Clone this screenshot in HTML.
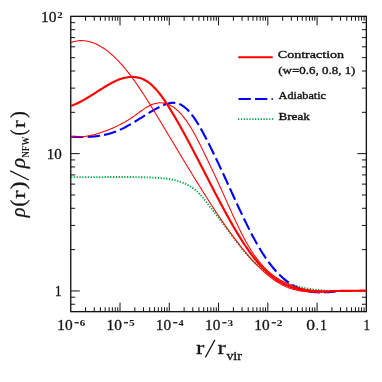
<!DOCTYPE html>
<html><head><meta charset="utf-8"><style>
html,body{margin:0;padding:0;background:#fff;}
body{width:382px;height:382px;overflow:hidden;}
svg{display:block;}
text{font-family:"Liberation Serif",serif;fill:#141414;}
.ticks line{stroke:#141414;stroke-width:1.0;}
</style></head><body>
<svg width="382" height="382" viewBox="0 0 382 382">
<rect width="382" height="382" fill="#fff"/>
<defs><clipPath id="cp"><rect x="70.75" y="16.35" width="296.20000000000005" height="295.29999999999995"/></clipPath></defs>
<rect x="70.75" y="16.35" width="295.6" height="295.29999999999995" fill="none" stroke="#141414" stroke-width="1.35"/>
<g class="ticks"><line x1="85.58" y1="311.65" x2="85.58" y2="307.25"/><line x1="85.58" y1="16.35" x2="85.58" y2="20.75"/><line x1="94.26" y1="311.65" x2="94.26" y2="307.25"/><line x1="94.26" y1="16.35" x2="94.26" y2="20.75"/><line x1="100.41" y1="311.65" x2="100.41" y2="307.25"/><line x1="100.41" y1="16.35" x2="100.41" y2="20.75"/><line x1="105.19" y1="311.65" x2="105.19" y2="307.25"/><line x1="105.19" y1="16.35" x2="105.19" y2="20.75"/><line x1="109.09" y1="311.65" x2="109.09" y2="307.25"/><line x1="109.09" y1="16.35" x2="109.09" y2="20.75"/><line x1="112.39" y1="311.65" x2="112.39" y2="307.25"/><line x1="112.39" y1="16.35" x2="112.39" y2="20.75"/><line x1="115.24" y1="311.65" x2="115.24" y2="307.25"/><line x1="115.24" y1="16.35" x2="115.24" y2="20.75"/><line x1="117.76" y1="311.65" x2="117.76" y2="307.25"/><line x1="117.76" y1="16.35" x2="117.76" y2="20.75"/><line x1="120.02" y1="311.65" x2="120.02" y2="302.65"/><line x1="120.02" y1="16.35" x2="120.02" y2="25.35"/><line x1="134.85" y1="311.65" x2="134.85" y2="307.25"/><line x1="134.85" y1="16.35" x2="134.85" y2="20.75"/><line x1="143.52" y1="311.65" x2="143.52" y2="307.25"/><line x1="143.52" y1="16.35" x2="143.52" y2="20.75"/><line x1="149.68" y1="311.65" x2="149.68" y2="307.25"/><line x1="149.68" y1="16.35" x2="149.68" y2="20.75"/><line x1="154.45" y1="311.65" x2="154.45" y2="307.25"/><line x1="154.45" y1="16.35" x2="154.45" y2="20.75"/><line x1="158.35" y1="311.65" x2="158.35" y2="307.25"/><line x1="158.35" y1="16.35" x2="158.35" y2="20.75"/><line x1="161.65" y1="311.65" x2="161.65" y2="307.25"/><line x1="161.65" y1="16.35" x2="161.65" y2="20.75"/><line x1="164.51" y1="311.65" x2="164.51" y2="307.25"/><line x1="164.51" y1="16.35" x2="164.51" y2="20.75"/><line x1="167.03" y1="311.65" x2="167.03" y2="307.25"/><line x1="167.03" y1="16.35" x2="167.03" y2="20.75"/><line x1="169.28" y1="311.65" x2="169.28" y2="302.65"/><line x1="169.28" y1="16.35" x2="169.28" y2="25.35"/><line x1="184.11" y1="311.65" x2="184.11" y2="307.25"/><line x1="184.11" y1="16.35" x2="184.11" y2="20.75"/><line x1="192.79" y1="311.65" x2="192.79" y2="307.25"/><line x1="192.79" y1="16.35" x2="192.79" y2="20.75"/><line x1="198.94" y1="311.65" x2="198.94" y2="307.25"/><line x1="198.94" y1="16.35" x2="198.94" y2="20.75"/><line x1="203.72" y1="311.65" x2="203.72" y2="307.25"/><line x1="203.72" y1="16.35" x2="203.72" y2="20.75"/><line x1="207.62" y1="311.65" x2="207.62" y2="307.25"/><line x1="207.62" y1="16.35" x2="207.62" y2="20.75"/><line x1="210.92" y1="311.65" x2="210.92" y2="307.25"/><line x1="210.92" y1="16.35" x2="210.92" y2="20.75"/><line x1="213.78" y1="311.65" x2="213.78" y2="307.25"/><line x1="213.78" y1="16.35" x2="213.78" y2="20.75"/><line x1="216.30" y1="311.65" x2="216.30" y2="307.25"/><line x1="216.30" y1="16.35" x2="216.30" y2="20.75"/><line x1="218.55" y1="311.65" x2="218.55" y2="302.65"/><line x1="218.55" y1="16.35" x2="218.55" y2="25.35"/><line x1="233.38" y1="311.65" x2="233.38" y2="307.25"/><line x1="233.38" y1="16.35" x2="233.38" y2="20.75"/><line x1="242.06" y1="311.65" x2="242.06" y2="307.25"/><line x1="242.06" y1="16.35" x2="242.06" y2="20.75"/><line x1="248.21" y1="311.65" x2="248.21" y2="307.25"/><line x1="248.21" y1="16.35" x2="248.21" y2="20.75"/><line x1="252.99" y1="311.65" x2="252.99" y2="307.25"/><line x1="252.99" y1="16.35" x2="252.99" y2="20.75"/><line x1="256.89" y1="311.65" x2="256.89" y2="307.25"/><line x1="256.89" y1="16.35" x2="256.89" y2="20.75"/><line x1="260.19" y1="311.65" x2="260.19" y2="307.25"/><line x1="260.19" y1="16.35" x2="260.19" y2="20.75"/><line x1="263.04" y1="311.65" x2="263.04" y2="307.25"/><line x1="263.04" y1="16.35" x2="263.04" y2="20.75"/><line x1="265.56" y1="311.65" x2="265.56" y2="307.25"/><line x1="265.56" y1="16.35" x2="265.56" y2="20.75"/><line x1="267.82" y1="311.65" x2="267.82" y2="302.65"/><line x1="267.82" y1="16.35" x2="267.82" y2="25.35"/><line x1="282.65" y1="311.65" x2="282.65" y2="307.25"/><line x1="282.65" y1="16.35" x2="282.65" y2="20.75"/><line x1="291.32" y1="311.65" x2="291.32" y2="307.25"/><line x1="291.32" y1="16.35" x2="291.32" y2="20.75"/><line x1="297.48" y1="311.65" x2="297.48" y2="307.25"/><line x1="297.48" y1="16.35" x2="297.48" y2="20.75"/><line x1="302.25" y1="311.65" x2="302.25" y2="307.25"/><line x1="302.25" y1="16.35" x2="302.25" y2="20.75"/><line x1="306.15" y1="311.65" x2="306.15" y2="307.25"/><line x1="306.15" y1="16.35" x2="306.15" y2="20.75"/><line x1="309.45" y1="311.65" x2="309.45" y2="307.25"/><line x1="309.45" y1="16.35" x2="309.45" y2="20.75"/><line x1="312.31" y1="311.65" x2="312.31" y2="307.25"/><line x1="312.31" y1="16.35" x2="312.31" y2="20.75"/><line x1="314.83" y1="311.65" x2="314.83" y2="307.25"/><line x1="314.83" y1="16.35" x2="314.83" y2="20.75"/><line x1="317.08" y1="311.65" x2="317.08" y2="302.65"/><line x1="317.08" y1="16.35" x2="317.08" y2="25.35"/><line x1="331.91" y1="311.65" x2="331.91" y2="307.25"/><line x1="331.91" y1="16.35" x2="331.91" y2="20.75"/><line x1="340.59" y1="311.65" x2="340.59" y2="307.25"/><line x1="340.59" y1="16.35" x2="340.59" y2="20.75"/><line x1="346.74" y1="311.65" x2="346.74" y2="307.25"/><line x1="346.74" y1="16.35" x2="346.74" y2="20.75"/><line x1="351.52" y1="311.65" x2="351.52" y2="307.25"/><line x1="351.52" y1="16.35" x2="351.52" y2="20.75"/><line x1="355.42" y1="311.65" x2="355.42" y2="307.25"/><line x1="355.42" y1="16.35" x2="355.42" y2="20.75"/><line x1="358.72" y1="311.65" x2="358.72" y2="307.25"/><line x1="358.72" y1="16.35" x2="358.72" y2="20.75"/><line x1="361.58" y1="311.65" x2="361.58" y2="307.25"/><line x1="361.58" y1="16.35" x2="361.58" y2="20.75"/><line x1="364.10" y1="311.65" x2="364.10" y2="307.25"/><line x1="364.10" y1="16.35" x2="364.10" y2="20.75"/><line x1="70.75" y1="304.26" x2="75.15" y2="304.26"/><line x1="366.35" y1="304.26" x2="361.95" y2="304.26"/><line x1="70.75" y1="297.23" x2="75.15" y2="297.23"/><line x1="366.35" y1="297.23" x2="361.95" y2="297.23"/><line x1="70.75" y1="290.95" x2="79.75" y2="290.95"/><line x1="366.35" y1="290.95" x2="357.35" y2="290.95"/><line x1="70.75" y1="249.62" x2="75.15" y2="249.62"/><line x1="366.35" y1="249.62" x2="361.95" y2="249.62"/><line x1="70.75" y1="225.44" x2="75.15" y2="225.44"/><line x1="366.35" y1="225.44" x2="361.95" y2="225.44"/><line x1="70.75" y1="208.29" x2="75.15" y2="208.29"/><line x1="366.35" y1="208.29" x2="361.95" y2="208.29"/><line x1="70.75" y1="194.98" x2="75.15" y2="194.98"/><line x1="366.35" y1="194.98" x2="361.95" y2="194.98"/><line x1="70.75" y1="184.11" x2="75.15" y2="184.11"/><line x1="366.35" y1="184.11" x2="361.95" y2="184.11"/><line x1="70.75" y1="174.92" x2="75.15" y2="174.92"/><line x1="366.35" y1="174.92" x2="361.95" y2="174.92"/><line x1="70.75" y1="166.96" x2="75.15" y2="166.96"/><line x1="366.35" y1="166.96" x2="361.95" y2="166.96"/><line x1="70.75" y1="159.93" x2="75.15" y2="159.93"/><line x1="366.35" y1="159.93" x2="361.95" y2="159.93"/><line x1="70.75" y1="153.65" x2="79.75" y2="153.65"/><line x1="366.35" y1="153.65" x2="357.35" y2="153.65"/><line x1="70.75" y1="112.32" x2="75.15" y2="112.32"/><line x1="366.35" y1="112.32" x2="361.95" y2="112.32"/><line x1="70.75" y1="88.14" x2="75.15" y2="88.14"/><line x1="366.35" y1="88.14" x2="361.95" y2="88.14"/><line x1="70.75" y1="70.99" x2="75.15" y2="70.99"/><line x1="366.35" y1="70.99" x2="361.95" y2="70.99"/><line x1="70.75" y1="57.68" x2="75.15" y2="57.68"/><line x1="366.35" y1="57.68" x2="361.95" y2="57.68"/><line x1="70.75" y1="46.81" x2="75.15" y2="46.81"/><line x1="366.35" y1="46.81" x2="361.95" y2="46.81"/><line x1="70.75" y1="37.62" x2="75.15" y2="37.62"/><line x1="366.35" y1="37.62" x2="361.95" y2="37.62"/><line x1="70.75" y1="29.66" x2="75.15" y2="29.66"/><line x1="366.35" y1="29.66" x2="361.95" y2="29.66"/><line x1="70.75" y1="22.63" x2="75.15" y2="22.63"/><line x1="366.35" y1="22.63" x2="361.95" y2="22.63"/></g>
<g clip-path="url(#cp)" fill="none" stroke-linejoin="round">
<path d="M71.00,177.10 C71.25,177.10 72.00,177.11 72.50,177.12 C73.00,177.12 73.50,177.13 74.00,177.13 C74.50,177.14 75.00,177.14 75.50,177.15 C76.00,177.15 76.50,177.15 77.00,177.15 C77.50,177.16 78.00,177.16 78.50,177.16 C79.00,177.16 79.50,177.17 80.00,177.17 C80.50,177.17 81.00,177.17 81.50,177.17 C82.00,177.17 82.50,177.17 83.00,177.17 C83.50,177.17 84.00,177.17 84.50,177.17 C85.00,177.17 85.50,177.17 86.00,177.17 C86.50,177.17 87.00,177.17 87.50,177.17 C88.00,177.17 88.50,177.17 89.00,177.16 C89.50,177.16 90.00,177.16 90.50,177.16 C91.00,177.16 91.50,177.15 92.00,177.15 C92.50,177.15 93.00,177.15 93.50,177.14 C94.00,177.14 94.50,177.14 95.00,177.14 C95.50,177.13 96.00,177.13 96.50,177.13 C97.00,177.12 97.50,177.12 98.00,177.12 C98.50,177.11 99.00,177.11 99.50,177.11 C100.00,177.10 100.50,177.10 101.00,177.10 C101.50,177.09 102.00,177.09 102.50,177.09 C103.00,177.08 103.50,177.08 104.00,177.08 C104.50,177.07 105.00,177.07 105.50,177.07 C106.00,177.07 106.50,177.06 107.00,177.06 C107.50,177.06 108.00,177.05 108.50,177.05 C109.00,177.05 109.50,177.04 110.00,177.04 C110.50,177.04 111.00,177.04 111.50,177.03 C112.00,177.03 112.50,177.03 113.00,177.03 C113.50,177.02 114.00,177.02 114.50,177.02 C115.00,177.02 115.50,177.02 116.00,177.02 C116.50,177.01 117.00,177.01 117.50,177.01 C118.00,177.01 118.50,177.01 119.00,177.01 C119.50,177.01 120.00,177.01 120.50,177.01 C121.00,177.01 121.50,177.01 122.00,177.01 C122.50,177.01 123.00,177.01 123.50,177.01 C124.00,177.01 124.50,177.02 125.00,177.02 C125.50,177.02 126.00,177.02 126.50,177.02 C127.00,177.03 127.50,177.03 128.00,177.03 C128.50,177.04 129.00,177.04 129.50,177.04 C130.00,177.05 130.50,177.05 131.00,177.06 C131.50,177.06 132.00,177.07 132.50,177.07 C133.00,177.08 133.50,177.09 134.00,177.09 C134.50,177.10 135.00,177.11 135.50,177.11 C136.00,177.12 136.50,177.13 137.00,177.14 C137.50,177.15 138.00,177.16 138.50,177.17 C139.00,177.18 139.50,177.19 140.00,177.20 C140.50,177.21 141.00,177.22 141.50,177.23 C142.00,177.24 142.50,177.26 143.00,177.27 C143.50,177.28 144.00,177.30 144.50,177.31 C145.00,177.33 145.50,177.34 146.00,177.36 C146.50,177.37 147.00,177.39 147.50,177.41 C148.00,177.42 148.50,177.44 149.00,177.46 C149.50,177.48 150.00,177.50 150.50,177.52 C151.00,177.54 151.50,177.56 152.00,177.58 C152.50,177.60 153.00,177.62 153.50,177.65 C154.00,177.67 154.50,177.69 155.00,177.72 C155.50,177.74 156.00,177.77 156.50,177.80 C157.00,177.83 157.50,177.86 158.00,177.89 C158.50,177.92 159.00,177.95 159.50,177.99 C160.00,178.03 160.50,178.07 161.00,178.11 C161.50,178.15 162.00,178.19 162.50,178.24 C163.00,178.29 163.50,178.34 164.00,178.39 C164.50,178.45 165.00,178.50 165.50,178.56 C166.00,178.63 166.50,178.69 167.00,178.76 C167.50,178.83 168.00,178.90 168.50,178.98 C169.00,179.06 169.50,179.14 170.00,179.23 C170.50,179.32 171.00,179.41 171.50,179.51 C172.00,179.61 172.50,179.71 173.00,179.82 C173.50,179.93 174.00,180.04 174.50,180.16 C175.00,180.28 175.50,180.41 176.00,180.54 C176.50,180.68 177.00,180.82 177.50,180.96 C178.00,181.11 178.50,181.26 179.00,181.42 C179.50,181.58 180.00,181.75 180.50,181.93 C181.00,182.10 181.50,182.28 182.00,182.47 C182.50,182.67 183.00,182.86 183.50,183.07 C184.00,183.28 184.50,183.49 185.00,183.72 C185.50,183.94 186.00,184.17 186.50,184.41 C187.00,184.65 187.50,184.90 188.00,185.16 C188.50,185.43 189.00,185.70 189.50,185.98 C190.00,186.27 190.50,186.56 191.00,186.87 C191.50,187.18 192.00,187.51 192.50,187.85 C193.00,188.19 193.50,188.54 194.00,188.92 C194.50,189.29 195.00,189.68 195.50,190.09 C196.00,190.50 196.50,190.93 197.00,191.38 C197.50,191.83 198.00,192.30 198.50,192.79 C199.00,193.28 199.50,193.79 200.00,194.33 C200.50,194.87 201.00,195.43 201.50,196.01 C202.00,196.58 202.50,197.19 203.00,197.79 C203.50,198.40 204.00,199.03 204.50,199.66 C205.00,200.28 205.50,200.92 206.00,201.56 C206.50,202.20 207.00,202.84 207.50,203.48 C208.00,204.11 208.50,204.75 209.00,205.38 C209.50,206.02 210.00,206.65 210.50,207.29 C211.00,207.92 211.50,208.56 212.00,209.19 C212.50,209.83 213.00,210.46 213.50,211.10 C214.00,211.74 214.50,212.37 215.00,213.01 C215.50,213.65 216.00,214.29 216.50,214.93 C217.00,215.58 217.50,216.22 218.00,216.87 C218.50,217.52 219.00,218.17 219.50,218.82 C220.00,219.47 220.50,220.13 221.00,220.79 C221.50,221.45 222.00,222.11 222.50,222.78 C223.00,223.45 223.50,224.11 224.00,224.78 C224.50,225.45 225.00,226.13 225.50,226.80 C226.00,227.47 226.50,228.15 227.00,228.82 C227.50,229.50 228.00,230.17 228.50,230.85 C229.00,231.52 229.50,232.20 230.00,232.87 C230.50,233.54 231.00,234.22 231.50,234.89 C232.00,235.56 232.50,236.23 233.00,236.90 C233.50,237.56 234.00,238.23 234.50,238.89 C235.00,239.55 235.50,240.21 236.00,240.87 C236.50,241.53 237.00,242.18 237.50,242.83 C238.00,243.47 238.50,244.12 239.00,244.76 C239.50,245.40 240.00,246.03 240.50,246.66 C241.00,247.29 241.50,247.91 242.00,248.53 C242.50,249.15 243.00,249.76 243.50,250.36 C244.00,250.97 244.50,251.56 245.00,252.15 C245.50,252.74 246.00,253.32 246.50,253.90 C247.00,254.47 247.50,255.04 248.00,255.59 C248.50,256.15 249.00,256.70 249.50,257.23 C250.00,257.77 250.50,258.30 251.00,258.82 C251.50,259.34 252.00,259.85 252.50,260.35 C253.00,260.86 253.50,261.35 254.00,261.84 C254.50,262.32 255.00,262.80 255.50,263.26 C256.00,263.73 256.50,264.19 257.00,264.64 C257.50,265.09 258.00,265.53 258.50,265.97 C259.00,266.40 259.50,266.83 260.00,267.25 C260.50,267.67 261.00,268.08 261.50,268.48 C262.00,268.88 262.50,269.28 263.00,269.66 C263.50,270.05 264.00,270.43 264.50,270.80 C265.00,271.17 265.50,271.54 266.00,271.90 C266.50,272.25 267.00,272.60 267.50,272.95 C268.00,273.29 268.50,273.63 269.00,273.95 C269.50,274.28 270.00,274.61 270.50,274.92 C271.00,275.24 271.50,275.55 272.00,275.85 C272.50,276.15 273.00,276.45 273.50,276.74 C274.00,277.02 274.50,277.31 275.00,277.58 C275.50,277.86 276.00,278.13 276.50,278.40 C277.00,278.66 277.50,278.92 278.00,279.17 C278.50,279.42 279.00,279.67 279.50,279.91 C280.00,280.15 280.50,280.39 281.00,280.62 C281.50,280.85 282.00,281.07 282.50,281.29 C283.00,281.51 283.50,281.72 284.00,281.93 C284.50,282.14 285.00,282.34 285.50,282.54 C286.00,282.74 286.50,282.93 287.00,283.12 C287.50,283.31 288.00,283.49 288.50,283.67 C289.00,283.85 289.50,284.03 290.00,284.20 C290.50,284.37 291.00,284.53 291.50,284.69 C292.00,284.86 292.50,285.01 293.00,285.16 C293.50,285.32 294.00,285.47 294.50,285.61 C295.00,285.76 295.50,285.90 296.00,286.03 C296.50,286.17 297.00,286.30 297.50,286.43 C298.00,286.56 298.50,286.69 299.00,286.81 C299.50,286.94 300.00,287.06 300.50,287.17 C301.00,287.29 301.50,287.40 302.00,287.51 C302.50,287.62 303.00,287.73 303.50,287.83 C304.00,287.93 304.50,288.03 305.00,288.13 C305.50,288.22 306.00,288.32 306.50,288.41 C307.00,288.50 307.50,288.59 308.00,288.67 C308.50,288.76 309.00,288.84 309.50,288.92 C310.00,289.00 310.50,289.07 311.00,289.15 C311.50,289.22 312.00,289.29 312.50,289.36 C313.00,289.43 313.50,289.49 314.00,289.55 C314.50,289.62 315.00,289.68 315.50,289.73 C316.00,289.79 316.50,289.85 317.00,289.90 C317.50,289.95 318.00,290.00 318.50,290.05 C319.00,290.10 319.50,290.15 320.00,290.19 C320.50,290.23 321.00,290.28 321.50,290.32 C322.00,290.36 322.50,290.39 323.00,290.43 C323.50,290.46 324.00,290.50 324.50,290.53 C325.00,290.56 325.50,290.59 326.00,290.62 C326.50,290.65 327.00,290.67 327.50,290.70 C328.00,290.72 328.50,290.74 329.00,290.76 C329.50,290.78 330.00,290.80 330.50,290.82 C331.00,290.84 331.50,290.87 332.00,290.89 C332.50,290.91 333.00,290.93 333.50,290.94 C334.00,290.96 334.50,290.97 335.00,290.98 C335.50,290.98 336.00,290.98 336.50,290.98 C337.00,290.98 337.50,290.98 338.00,290.97 C338.50,290.97 339.00,290.96 339.50,290.95 C340.00,290.95 340.50,290.94 341.00,290.93 C341.50,290.93 342.25,290.92 342.50,290.91" stroke="#00a846" stroke-width="1.9" stroke-dasharray="1.3 1.5"/>
<path d="M71.00,136.74 C71.25,136.75 72.00,136.78 72.50,136.79 C73.00,136.81 73.50,136.83 74.00,136.85 C74.50,136.86 75.00,136.88 75.50,136.89 C76.00,136.91 76.50,136.92 77.00,136.93 C77.50,136.94 78.00,136.95 78.50,136.96 C79.00,136.97 79.50,136.98 80.00,136.98 C80.50,136.98 81.00,136.99 81.50,136.99 C82.00,136.99 82.50,136.99 83.00,136.98 C83.50,136.98 84.00,136.97 84.50,136.96 C85.00,136.95 85.50,136.94 86.00,136.93 C86.50,136.91 87.00,136.90 87.50,136.88 C88.00,136.86 88.50,136.84 89.00,136.81 C89.50,136.79 90.00,136.76 90.50,136.73 C91.00,136.70 91.50,136.66 92.00,136.62 C92.50,136.59 93.00,136.54 93.50,136.50 C94.00,136.46 94.50,136.41 95.00,136.35 C95.50,136.30 96.00,136.25 96.50,136.19 C97.00,136.13 97.50,136.06 98.00,136.00 C98.50,135.93 99.00,135.86 99.50,135.78 C100.00,135.70 100.50,135.62 101.00,135.54 C101.50,135.45 102.00,135.36 102.50,135.27 C103.00,135.17 103.50,135.08 104.00,134.97 C104.50,134.87 105.00,134.76 105.50,134.65 C106.00,134.53 106.50,134.41 107.00,134.29 C107.50,134.17 108.00,134.04 108.50,133.90 C109.00,133.77 109.50,133.63 110.00,133.48 C110.50,133.34 111.00,133.19 111.50,133.03 C112.00,132.87 112.50,132.71 113.00,132.54 C113.50,132.38 114.00,132.20 114.50,132.02 C115.00,131.84 115.50,131.65 116.00,131.46 C116.50,131.27 117.00,131.07 117.50,130.86 C118.00,130.66 118.50,130.45 119.00,130.23 C119.50,130.01 120.00,129.78 120.50,129.55 C121.00,129.32 121.50,129.08 122.00,128.84 C122.50,128.60 123.00,128.35 123.50,128.10 C124.00,127.85 124.50,127.59 125.00,127.32 C125.50,127.06 126.00,126.79 126.50,126.52 C127.00,126.25 127.50,125.97 128.00,125.69 C128.50,125.41 129.00,125.13 129.50,124.84 C130.00,124.56 130.50,124.27 131.00,123.97 C131.50,123.68 132.00,123.38 132.50,123.08 C133.00,122.78 133.50,122.48 134.00,122.18 C134.50,121.88 135.00,121.57 135.50,121.26 C136.00,120.96 136.50,120.65 137.00,120.34 C137.50,120.03 138.00,119.72 138.50,119.40 C139.00,119.09 139.50,118.78 140.00,118.46 C140.50,118.15 141.00,117.84 141.50,117.52 C142.00,117.21 142.50,116.90 143.00,116.58 C143.50,116.27 144.00,115.96 144.50,115.64 C145.00,115.33 145.50,115.02 146.00,114.71 C146.50,114.40 147.00,114.09 147.50,113.79 C148.00,113.48 148.50,113.18 149.00,112.87 C149.50,112.57 150.00,112.27 150.50,111.97 C151.00,111.67 151.50,111.38 152.00,111.09 C152.50,110.80 153.00,110.51 153.50,110.22 C154.00,109.93 154.50,109.65 155.00,109.37 C155.50,109.10 156.00,108.82 156.50,108.55 C157.00,108.28 157.50,108.02 158.00,107.75 C158.50,107.49 159.00,107.24 159.50,106.99 C160.00,106.74 160.50,106.49 161.00,106.25 C161.50,106.01 162.00,105.78 162.50,105.56 C163.00,105.34 163.50,105.12 164.00,104.92 C164.50,104.71 165.00,104.52 165.50,104.34 C166.00,104.16 166.50,103.99 167.00,103.84 C167.50,103.69 168.00,103.54 168.50,103.42 C169.00,103.30 169.50,103.19 170.00,103.10 C170.50,103.01 171.00,102.94 171.50,102.89 C172.00,102.84 172.50,102.80 173.00,102.79 C173.50,102.78 174.00,102.79 174.50,102.83 C175.00,102.86 175.50,102.92 176.00,103.00 C176.50,103.09 177.00,103.19 177.50,103.33 C178.00,103.46 178.50,103.62 179.00,103.82 C179.50,104.01 180.00,104.23 180.50,104.47 C181.00,104.72 181.50,105.00 182.00,105.31 C182.50,105.61 183.00,105.95 183.50,106.31 C184.00,106.67 184.50,107.06 185.00,107.48 C185.50,107.90 186.00,108.34 186.50,108.81 C187.00,109.28 187.50,109.77 188.00,110.30 C188.50,110.82 189.00,111.36 189.50,111.93 C190.00,112.50 190.50,113.10 191.00,113.72 C191.50,114.34 192.00,114.98 192.50,115.65 C193.00,116.31 193.50,117.00 194.00,117.71 C194.50,118.43 195.00,119.16 195.50,119.92 C196.00,120.67 196.50,121.45 197.00,122.24 C197.50,123.04 198.00,123.85 198.50,124.68 C199.00,125.51 199.50,126.36 200.00,127.23 C200.50,128.09 201.00,128.97 201.50,129.87 C202.00,130.76 202.50,131.67 203.00,132.59 C203.50,133.51 204.00,134.45 204.50,135.39 C205.00,136.34 205.50,137.30 206.00,138.26 C206.50,139.22 207.00,140.20 207.50,141.18 C208.00,142.16 208.50,143.15 209.00,144.15 C209.50,145.15 210.00,146.15 210.50,147.15 C211.00,148.16 211.50,149.17 212.00,150.19 C212.50,151.21 213.00,152.23 213.50,153.26 C214.00,154.29 214.50,155.33 215.00,156.36 C215.50,157.40 216.00,158.45 216.50,159.49 C217.00,160.54 217.50,161.59 218.00,162.65 C218.50,163.71 219.00,164.77 219.50,165.83 C220.00,166.90 220.50,167.97 221.00,169.04 C221.50,170.11 222.00,171.19 222.50,172.27 C223.00,173.35 223.50,174.43 224.00,175.51 C224.50,176.60 225.00,177.69 225.50,178.78 C226.00,179.87 226.50,180.96 227.00,182.05 C227.50,183.15 228.00,184.24 228.50,185.34 C229.00,186.43 229.50,187.53 230.00,188.62 C230.50,189.72 231.00,190.81 231.50,191.91 C232.00,193.00 232.50,194.10 233.00,195.19 C233.50,196.28 234.00,197.37 234.50,198.46 C235.00,199.55 235.50,200.64 236.00,201.73 C236.50,202.81 237.00,203.89 237.50,204.97 C238.00,206.05 238.50,207.13 239.00,208.20 C239.50,209.27 240.00,210.34 240.50,211.40 C241.00,212.46 241.50,213.52 242.00,214.57 C242.50,215.62 243.00,216.67 243.50,217.71 C244.00,218.75 244.50,219.79 245.00,220.82 C245.50,221.85 246.00,222.87 246.50,223.88 C247.00,224.90 247.50,225.91 248.00,226.90 C248.50,227.90 249.00,228.90 249.50,229.88 C250.00,230.86 250.50,231.84 251.00,232.80 C251.50,233.76 252.00,234.72 252.50,235.67 C253.00,236.61 253.50,237.55 254.00,238.47 C254.50,239.40 255.00,240.31 255.50,241.21 C256.00,242.12 256.50,243.01 257.00,243.89 C257.50,244.77 258.00,245.64 258.50,246.49 C259.00,247.35 259.50,248.19 260.00,249.02 C260.50,249.85 261.00,250.66 261.50,251.46 C262.00,252.27 262.50,253.06 263.00,253.83 C263.50,254.61 264.00,255.37 264.50,256.12 C265.00,256.87 265.50,257.60 266.00,258.33 C266.50,259.05 267.00,259.76 267.50,260.46 C268.00,261.15 268.50,261.84 269.00,262.51 C269.50,263.18 270.00,263.84 270.50,264.48 C271.00,265.13 271.50,265.76 272.00,266.38 C272.50,267.00 273.00,267.61 273.50,268.21 C274.00,268.80 274.50,269.38 275.00,269.96 C275.50,270.53 276.00,271.08 276.50,271.63 C277.00,272.18 277.50,272.71 278.00,273.23 C278.50,273.75 279.00,274.26 279.50,274.76 C280.00,275.26 280.50,275.75 281.00,276.22 C281.50,276.69 282.00,277.16 282.50,277.61 C283.00,278.06 283.50,278.50 284.00,278.92 C284.50,279.35 285.00,279.77 285.50,280.17 C286.00,280.58 286.50,280.97 287.00,281.35 C287.50,281.73 288.00,282.10 288.50,282.46 C289.00,282.82 289.50,283.17 290.00,283.50 C290.50,283.84 291.00,284.17 291.50,284.48 C292.00,284.80 292.50,285.10 293.00,285.39 C293.50,285.69 294.00,285.97 294.50,286.24 C295.00,286.51 295.50,286.77 296.00,287.02 C296.50,287.27 297.00,287.51 297.50,287.74 C298.00,287.97 298.50,288.19 299.00,288.40 C299.50,288.61 300.00,288.81 300.50,289.00 C301.00,289.18 301.50,289.37 302.00,289.54 C302.50,289.71 303.00,289.87 303.50,290.02 C304.00,290.18 304.50,290.32 305.00,290.46 C305.50,290.59 306.00,290.72 306.50,290.84 C307.00,290.96 307.50,291.07 308.00,291.18 C308.50,291.28 309.00,291.38 309.50,291.47 C310.00,291.56 310.50,291.64 311.00,291.72 C311.50,291.80 312.00,291.86 312.50,291.93 C313.00,291.99 313.50,292.04 314.00,292.10 C314.50,292.15 315.00,292.19 315.50,292.23 C316.00,292.27 316.50,292.30 317.00,292.32 C317.50,292.35 318.00,292.37 318.50,292.39 C319.00,292.41 319.50,292.42 320.00,292.43 C320.50,292.43 321.00,292.44 321.50,292.44 C322.00,292.43 322.50,292.43 323.00,292.42 C323.50,292.41 324.00,292.40 324.50,292.38 C325.00,292.36 325.50,292.34 326.00,292.32 C326.50,292.30 327.00,292.27 327.50,292.24 C328.00,292.21 328.50,292.18 329.00,292.15 C329.50,292.11 330.00,292.08 330.50,292.04 C331.00,292.00 331.50,291.95 332.00,291.89 C332.50,291.82 333.00,291.73 333.50,291.65 C334.00,291.56 334.50,291.47 335.00,291.39 C335.50,291.31 336.00,291.23 336.50,291.17 C337.00,291.11 337.50,291.06 338.00,291.02 C338.50,290.99 339.00,290.97 339.50,290.96 C340.00,290.94 340.50,290.94 341.00,290.93 C341.50,290.93 342.25,290.92 342.50,290.91" stroke="#0000ff" stroke-width="2.1" stroke-dasharray="12.45 4.17"/>
<path d="M71.00,42.42 C71.25,42.33 72.00,42.08 72.50,41.93 C73.00,41.78 73.50,41.64 74.00,41.52 C74.50,41.39 75.00,41.28 75.50,41.18 C76.00,41.09 76.50,41.00 77.00,40.93 C77.50,40.85 78.00,40.79 78.50,40.75 C79.00,40.70 79.50,40.66 80.00,40.64 C80.50,40.62 81.00,40.61 81.50,40.61 C82.00,40.61 82.50,40.63 83.00,40.65 C83.50,40.68 84.00,40.72 84.50,40.77 C85.00,40.82 85.50,40.88 86.00,40.96 C86.50,41.03 87.00,41.12 87.50,41.21 C88.00,41.31 88.50,41.42 89.00,41.54 C89.50,41.66 90.00,41.80 90.50,41.94 C91.00,42.08 91.50,42.24 92.00,42.41 C92.50,42.57 93.00,42.75 93.50,42.94 C94.00,43.13 94.50,43.33 95.00,43.54 C95.50,43.76 96.00,43.98 96.50,44.21 C97.00,44.45 97.50,44.69 98.00,44.95 C98.50,45.20 99.00,45.47 99.50,45.75 C100.00,46.02 100.50,46.31 101.00,46.61 C101.50,46.91 102.00,47.22 102.50,47.53 C103.00,47.85 103.50,48.18 104.00,48.52 C104.50,48.86 105.00,49.21 105.50,49.57 C106.00,49.93 106.50,50.30 107.00,50.68 C107.50,51.06 108.00,51.45 108.50,51.85 C109.00,52.26 109.50,52.67 110.00,53.08 C110.50,53.50 111.00,53.93 111.50,54.37 C112.00,54.81 112.50,55.26 113.00,55.72 C113.50,56.18 114.00,56.65 114.50,57.12 C115.00,57.60 115.50,58.09 116.00,58.58 C116.50,59.08 117.00,59.58 117.50,60.10 C118.00,60.61 118.50,61.13 119.00,61.66 C119.50,62.20 120.00,62.74 120.50,63.29 C121.00,63.84 121.50,64.40 122.00,64.96 C122.50,65.53 123.00,66.11 123.50,66.69 C124.00,67.27 124.50,67.87 125.00,68.47 C125.50,69.07 126.00,69.68 126.50,70.30 C127.00,70.92 127.50,71.54 128.00,72.18 C128.50,72.81 129.00,73.45 129.50,74.10 C130.00,74.75 130.50,75.41 131.00,76.08 C131.50,76.75 132.00,77.42 132.50,78.10 C133.00,78.78 133.50,79.47 134.00,80.17 C134.50,80.87 135.00,81.57 135.50,82.28 C136.00,83.00 136.50,83.71 137.00,84.44 C137.50,85.16 138.00,85.89 138.50,86.63 C139.00,87.37 139.50,88.11 140.00,88.86 C140.50,89.61 141.00,90.36 141.50,91.12 C142.00,91.88 142.50,92.65 143.00,93.42 C143.50,94.19 144.00,94.96 144.50,95.74 C145.00,96.52 145.50,97.30 146.00,98.09 C146.50,98.87 147.00,99.66 147.50,100.46 C148.00,101.25 148.50,102.05 149.00,102.85 C149.50,103.65 150.00,104.45 150.50,105.26 C151.00,106.07 151.50,106.88 152.00,107.69 C152.50,108.50 153.00,109.31 153.50,110.12 C154.00,110.94 154.50,111.76 155.00,112.57 C155.50,113.39 156.00,114.21 156.50,115.03 C157.00,115.86 157.50,116.68 158.00,117.50 C158.50,118.33 159.00,119.15 159.50,119.98 C160.00,120.81 160.50,121.64 161.00,122.47 C161.50,123.30 162.00,124.13 162.50,124.96 C163.00,125.79 163.50,126.62 164.00,127.45 C164.50,128.29 165.00,129.12 165.50,129.95 C166.00,130.79 166.50,131.62 167.00,132.46 C167.50,133.29 168.00,134.13 168.50,134.96 C169.00,135.80 169.50,136.63 170.00,137.47 C170.50,138.30 171.00,139.14 171.50,139.97 C172.00,140.81 172.50,141.64 173.00,142.48 C173.50,143.31 174.00,144.15 174.50,144.98 C175.00,145.82 175.50,146.65 176.00,147.49 C176.50,148.32 177.00,149.16 177.50,149.99 C178.00,150.82 178.50,151.66 179.00,152.49 C179.50,153.32 180.00,154.15 180.50,154.98 C181.00,155.82 181.50,156.65 182.00,157.48 C182.50,158.31 183.00,159.14 183.50,159.97 C184.00,160.79 184.50,161.62 185.00,162.45 C185.50,163.28 186.00,164.10 186.50,164.93 C187.00,165.75 187.50,166.58 188.00,167.40 C188.50,168.23 189.00,169.05 189.50,169.87 C190.00,170.69 190.50,171.51 191.00,172.33 C191.50,173.15 192.00,173.97 192.50,174.79 C193.00,175.60 193.50,176.42 194.00,177.23 C194.50,178.05 195.00,178.86 195.50,179.67 C196.00,180.48 196.50,181.29 197.00,182.10 C197.50,182.91 198.00,183.72 198.50,184.52 C199.00,185.33 199.50,186.13 200.00,186.94 C200.50,187.74 201.00,188.54 201.50,189.34 C202.00,190.14 202.50,190.93 203.00,191.73 C203.50,192.52 204.00,193.32 204.50,194.11 C205.00,194.90 205.50,195.69 206.00,196.48 C206.50,197.27 207.00,198.05 207.50,198.83 C208.00,199.62 208.50,200.40 209.00,201.18 C209.50,201.96 210.00,202.73 210.50,203.51 C211.00,204.28 211.50,205.06 212.00,205.83 C212.50,206.60 213.00,207.36 213.50,208.13 C214.00,208.90 214.50,209.66 215.00,210.42 C215.50,211.18 216.00,211.94 216.50,212.69 C217.00,213.44 217.50,214.20 218.00,214.94 C218.50,215.69 219.00,216.44 219.50,217.18 C220.00,217.93 220.50,218.67 221.00,219.40 C221.50,220.14 222.00,220.87 222.50,221.60 C223.00,222.33 223.50,223.06 224.00,223.78 C224.50,224.51 225.00,225.23 225.50,225.94 C226.00,226.66 226.50,227.37 227.00,228.08 C227.50,228.79 228.00,229.50 228.50,230.20 C229.00,230.90 229.50,231.60 230.00,232.29 C230.50,232.98 231.00,233.67 231.50,234.36 C232.00,235.05 232.50,235.73 233.00,236.40 C233.50,237.08 234.00,237.76 234.50,238.42 C235.00,239.09 235.50,239.76 236.00,240.42 C236.50,241.08 237.00,241.73 237.50,242.38 C238.00,243.04 238.50,243.68 239.00,244.32 C239.50,244.96 240.00,245.60 240.50,246.23 C241.00,246.87 241.50,247.49 242.00,248.11 C242.50,248.74 243.00,249.35 243.50,249.97 C244.00,250.58 244.50,251.18 245.00,251.79 C245.50,252.39 246.00,252.98 246.50,253.58 C247.00,254.17 247.50,254.75 248.00,255.33 C248.50,255.91 249.00,256.49 249.50,257.05 C250.00,257.62 250.50,258.19 251.00,258.74 C251.50,259.30 252.00,259.85 252.50,260.40 C253.00,260.94 253.50,261.48 254.00,262.02 C254.50,262.55 255.00,263.08 255.50,263.60 C256.00,264.12 256.50,264.64 257.00,265.15 C257.50,265.66 258.00,266.16 258.50,266.66 C259.00,267.15 259.50,267.64 260.00,268.12 C260.50,268.61 261.00,269.08 261.50,269.55 C262.00,270.02 262.50,270.49 263.00,270.94 C263.50,271.40 264.00,271.85 264.50,272.29 C265.00,272.74 265.50,273.17 266.00,273.60 C266.50,274.03 267.00,274.45 267.50,274.87 C268.00,275.28 268.50,275.69 269.00,276.09 C269.50,276.49 270.00,276.88 270.50,277.26 C271.00,277.65 271.50,278.03 272.00,278.40 C272.50,278.77 273.00,279.13 273.50,279.48 C274.00,279.84 274.50,280.18 275.00,280.52 C275.50,280.86 276.00,281.19 276.50,281.52 C277.00,281.84 277.50,282.16 278.00,282.46 C278.50,282.77 279.00,283.07 279.50,283.36 C280.00,283.65 280.50,283.93 281.00,284.21 C281.50,284.48 282.00,284.75 282.50,285.00 C283.00,285.26 283.50,285.51 284.00,285.75 C284.50,285.99 285.00,286.22 285.50,286.44 C286.00,286.66 286.50,286.88 287.00,287.09 C287.50,287.29 288.00,287.49 288.50,287.68 C289.00,287.87 289.50,288.05 290.00,288.23 C290.50,288.40 291.00,288.57 291.50,288.73 C292.00,288.89 292.50,289.04 293.00,289.19 C293.50,289.34 294.00,289.48 294.50,289.61 C295.00,289.74 295.50,289.87 296.00,289.99 C296.50,290.11 297.00,290.22 297.50,290.33 C298.00,290.43 298.50,290.53 299.00,290.63 C299.50,290.72 300.00,290.81 300.50,290.90 C301.00,290.98 301.50,291.06 302.00,291.13 C302.50,291.20 303.00,291.27 303.50,291.33 C304.00,291.40 304.50,291.45 305.00,291.51 C305.50,291.56 306.00,291.61 306.50,291.65 C307.00,291.70 307.50,291.74 308.00,291.77 C308.50,291.81 309.00,291.84 309.50,291.87 C310.00,291.90 310.50,291.92 311.00,291.94 C311.50,291.96 312.00,291.98 312.50,291.99 C313.00,292.01 313.50,292.02 314.00,292.02 C314.50,292.03 315.00,292.04 315.50,292.04 C316.00,292.04 316.50,292.04 317.00,292.04 C317.50,292.03 318.00,292.03 318.50,292.02 C319.00,292.01 319.50,292.00 320.00,291.99 C320.50,291.98 321.00,291.97 321.50,291.95 C322.00,291.94 322.50,291.92 323.00,291.90 C323.50,291.89 324.00,291.87 324.50,291.85 C325.00,291.83 325.50,291.81 326.00,291.79 C326.50,291.76 327.00,291.73 327.50,291.70 C328.00,291.67 328.50,291.62 329.00,291.58 C329.50,291.54 330.00,291.50 330.50,291.45 C331.00,291.41 331.50,291.36 332.00,291.32 C332.50,291.28 333.00,291.24 333.50,291.21 C334.00,291.17 334.50,291.14 335.00,291.11 C335.50,291.08 336.00,291.06 336.50,291.04 C337.00,291.01 337.50,291.00 338.00,290.99 C338.50,290.97 339.00,290.96 339.50,290.95 C340.00,290.95 340.50,290.94 341.00,290.93 C341.50,290.93 342.00,290.92 342.50,290.91 C343.00,290.91 343.50,290.90 344.00,290.89 C344.50,290.89 345.00,290.88 345.50,290.88 C346.00,290.87 346.50,290.86 347.00,290.86 C347.50,290.85 348.00,290.84 348.50,290.84 C349.00,290.83 349.50,290.82 350.00,290.82 C350.50,290.81 351.00,290.80 351.50,290.80 C352.00,290.79 352.50,290.78 353.00,290.78 C353.50,290.77 354.00,290.76 354.50,290.76 C355.00,290.75 355.50,290.74 356.00,290.74 C356.50,290.73 357.00,290.72 357.50,290.72 C358.00,290.71 358.50,290.70 359.00,290.70 C359.50,290.69 360.00,290.68 360.50,290.68 C361.00,290.67 361.50,290.66 362.00,290.66 C362.50,290.65 362.77,290.65 363.50,290.64 C364.23,290.63 365.92,290.61 366.40,290.60" stroke="#ff0000" stroke-width="1.05"/>
<path d="M71.00,136.46 C71.25,136.49 72.00,136.58 72.50,136.62 C73.00,136.67 73.50,136.70 74.00,136.73 C74.50,136.77 75.00,136.79 75.50,136.81 C76.00,136.82 76.50,136.83 77.00,136.84 C77.50,136.84 78.00,136.84 78.50,136.83 C79.00,136.82 79.50,136.80 80.00,136.78 C80.50,136.76 81.00,136.73 81.50,136.70 C82.00,136.66 82.50,136.62 83.00,136.57 C83.50,136.53 84.00,136.47 84.50,136.41 C85.00,136.36 85.50,136.29 86.00,136.22 C86.50,136.15 87.00,136.08 87.50,135.99 C88.00,135.91 88.50,135.83 89.00,135.73 C89.50,135.64 90.00,135.55 90.50,135.44 C91.00,135.34 91.50,135.23 92.00,135.12 C92.50,135.01 93.00,134.89 93.50,134.77 C94.00,134.65 94.50,134.52 95.00,134.39 C95.50,134.25 96.00,134.12 96.50,133.98 C97.00,133.84 97.50,133.69 98.00,133.54 C98.50,133.39 99.00,133.24 99.50,133.08 C100.00,132.92 100.50,132.76 101.00,132.59 C101.50,132.43 102.00,132.26 102.50,132.08 C103.00,131.91 103.50,131.73 104.00,131.55 C104.50,131.37 105.00,131.18 105.50,130.99 C106.00,130.80 106.50,130.61 107.00,130.42 C107.50,130.22 108.00,130.02 108.50,129.82 C109.00,129.62 109.50,129.41 110.00,129.20 C110.50,128.99 111.00,128.78 111.50,128.57 C112.00,128.36 112.50,128.14 113.00,127.92 C113.50,127.70 114.00,127.48 114.50,127.25 C115.00,127.02 115.50,126.79 116.00,126.56 C116.50,126.33 117.00,126.09 117.50,125.85 C118.00,125.61 118.50,125.36 119.00,125.12 C119.50,124.87 120.00,124.61 120.50,124.36 C121.00,124.10 121.50,123.84 122.00,123.57 C122.50,123.31 123.00,123.03 123.50,122.76 C124.00,122.48 124.50,122.20 125.00,121.92 C125.50,121.63 126.00,121.34 126.50,121.04 C127.00,120.75 127.50,120.45 128.00,120.14 C128.50,119.83 129.00,119.52 129.50,119.20 C130.00,118.88 130.50,118.55 131.00,118.22 C131.50,117.89 132.00,117.55 132.50,117.21 C133.00,116.86 133.50,116.51 134.00,116.16 C134.50,115.80 135.00,115.44 135.50,115.08 C136.00,114.72 136.50,114.35 137.00,113.99 C137.50,113.62 138.00,113.25 138.50,112.89 C139.00,112.52 139.50,112.15 140.00,111.79 C140.50,111.43 141.00,111.07 141.50,110.71 C142.00,110.36 142.50,110.01 143.00,109.66 C143.50,109.32 144.00,108.98 144.50,108.65 C145.00,108.32 145.50,108.00 146.00,107.68 C146.50,107.37 147.00,107.07 147.50,106.78 C148.00,106.49 148.50,106.21 149.00,105.94 C149.50,105.68 150.00,105.42 150.50,105.19 C151.00,104.95 151.50,104.73 152.00,104.52 C152.50,104.32 153.00,104.13 153.50,103.96 C154.00,103.80 154.50,103.65 155.00,103.51 C155.50,103.38 156.00,103.27 156.50,103.17 C157.00,103.08 157.50,103.00 158.00,102.94 C158.50,102.88 159.00,102.84 159.50,102.82 C160.00,102.80 160.50,102.80 161.00,102.81 C161.50,102.83 162.00,102.87 162.50,102.92 C163.00,102.98 163.50,103.05 164.00,103.14 C164.50,103.24 165.00,103.35 165.50,103.48 C166.00,103.61 166.50,103.76 167.00,103.93 C167.50,104.10 168.00,104.30 168.50,104.51 C169.00,104.72 169.50,104.95 170.00,105.20 C170.50,105.45 171.00,105.71 171.50,106.00 C172.00,106.29 172.50,106.60 173.00,106.93 C173.50,107.26 174.00,107.61 174.50,107.99 C175.00,108.36 175.50,108.75 176.00,109.16 C176.50,109.57 177.00,110.00 177.50,110.46 C178.00,110.91 178.50,111.38 179.00,111.88 C179.50,112.37 180.00,112.89 180.50,113.42 C181.00,113.96 181.50,114.52 182.00,115.10 C182.50,115.67 183.00,116.27 183.50,116.90 C184.00,117.52 184.50,118.16 185.00,118.82 C185.50,119.49 186.00,120.17 186.50,120.88 C187.00,121.59 187.50,122.32 188.00,123.07 C188.50,123.82 189.00,124.59 189.50,125.38 C190.00,126.18 190.50,127.00 191.00,127.83 C191.50,128.66 192.00,129.52 192.50,130.39 C193.00,131.26 193.50,132.15 194.00,133.06 C194.50,133.96 195.00,134.88 195.50,135.82 C196.00,136.75 196.50,137.70 197.00,138.66 C197.50,139.62 198.00,140.59 198.50,141.57 C199.00,142.55 199.50,143.54 200.00,144.54 C200.50,145.54 201.00,146.54 201.50,147.56 C202.00,148.57 202.50,149.59 203.00,150.61 C203.50,151.63 204.00,152.66 204.50,153.69 C205.00,154.71 205.50,155.75 206.00,156.78 C206.50,157.82 207.00,158.85 207.50,159.89 C208.00,160.93 208.50,161.98 209.00,163.02 C209.50,164.07 210.00,165.12 210.50,166.17 C211.00,167.22 211.50,168.28 212.00,169.34 C212.50,170.40 213.00,171.46 213.50,172.52 C214.00,173.59 214.50,174.66 215.00,175.73 C215.50,176.81 216.00,177.88 216.50,178.97 C217.00,180.05 217.50,181.13 218.00,182.22 C218.50,183.31 219.00,184.40 219.50,185.50 C220.00,186.59 220.50,187.70 221.00,188.80 C221.50,189.90 222.00,191.01 222.50,192.12 C223.00,193.23 223.50,194.35 224.00,195.46 C224.50,196.58 225.00,197.69 225.50,198.81 C226.00,199.92 226.50,201.04 227.00,202.16 C227.50,203.27 228.00,204.39 228.50,205.50 C229.00,206.61 229.50,207.72 230.00,208.82 C230.50,209.93 231.00,211.03 231.50,212.13 C232.00,213.23 232.50,214.33 233.00,215.41 C233.50,216.50 234.00,217.59 234.50,218.66 C235.00,219.74 235.50,220.81 236.00,221.87 C236.50,222.93 237.00,223.98 237.50,225.03 C238.00,226.07 238.50,227.11 239.00,228.13 C239.50,229.16 240.00,230.18 240.50,231.18 C241.00,232.18 241.50,233.18 242.00,234.16 C242.50,235.14 243.00,236.10 243.50,237.06 C244.00,238.01 244.50,238.95 245.00,239.88 C245.50,240.80 246.00,241.72 246.50,242.61 C247.00,243.50 247.50,244.38 248.00,245.25 C248.50,246.11 249.00,246.95 249.50,247.78 C250.00,248.61 250.50,249.42 251.00,250.21 C251.50,251.00 252.00,251.77 252.50,252.53 C253.00,253.28 253.50,254.02 254.00,254.75 C254.50,255.47 255.00,256.17 255.50,256.86 C256.00,257.55 256.50,258.23 257.00,258.89 C257.50,259.54 258.00,260.19 258.50,260.81 C259.00,261.44 259.50,262.05 260.00,262.65 C260.50,263.25 261.00,263.83 261.50,264.40 C262.00,264.97 262.50,265.52 263.00,266.06 C263.50,266.60 264.00,267.13 264.50,267.65 C265.00,268.16 265.50,268.66 266.00,269.15 C266.50,269.64 267.00,270.11 267.50,270.57 C268.00,271.04 268.50,271.49 269.00,271.93 C269.50,272.36 270.00,272.79 270.50,273.21 C271.00,273.62 271.50,274.03 272.00,274.42 C272.50,274.82 273.00,275.20 273.50,275.57 C274.00,275.94 274.50,276.31 275.00,276.66 C275.50,277.01 276.00,277.36 276.50,277.69 C277.00,278.02 277.50,278.35 278.00,278.66 C278.50,278.98 279.00,279.29 279.50,279.58 C280.00,279.88 280.50,280.17 281.00,280.45 C281.50,280.74 282.00,281.01 282.50,281.28 C283.00,281.55 283.50,281.80 284.00,282.06 C284.50,282.31 285.00,282.56 285.50,282.80 C286.00,283.04 286.50,283.27 287.00,283.49 C287.50,283.72 288.00,283.94 288.50,284.15 C289.00,284.37 289.50,284.57 290.00,284.77 C290.50,284.98 291.00,285.17 291.50,285.36 C292.00,285.55 292.50,285.73 293.00,285.91 C293.50,286.09 294.00,286.26 294.50,286.42 C295.00,286.59 295.50,286.75 296.00,286.90 C296.50,287.06 297.00,287.21 297.50,287.35 C298.00,287.49 298.50,287.63 299.00,287.77 C299.50,287.90 300.00,288.03 300.50,288.15 C301.00,288.28 301.50,288.39 302.00,288.51 C302.50,288.62 303.00,288.73 303.50,288.84 C304.00,288.94 304.50,289.04 305.00,289.14 C305.50,289.23 306.00,289.32 306.50,289.41 C307.00,289.50 307.50,289.58 308.00,289.66 C308.50,289.74 309.00,289.81 309.50,289.88 C310.00,289.95 310.50,290.02 311.00,290.09 C311.50,290.15 312.00,290.21 312.50,290.26 C313.00,290.32 313.50,290.37 314.00,290.42 C314.50,290.47 315.00,290.52 315.50,290.56 C316.00,290.60 316.50,290.64 317.00,290.68 C317.50,290.72 318.00,290.75 318.50,290.78 C319.00,290.81 319.50,290.84 320.00,290.87 C320.50,290.89 321.00,290.92 321.50,290.94 C322.00,290.96 322.50,290.98 323.00,290.99 C323.50,291.01 324.00,291.02 324.50,291.03 C325.00,291.04 325.50,291.05 326.00,291.06 C326.50,291.07 327.00,291.07 327.50,291.08 C328.00,291.08 328.50,291.08 329.00,291.08 C329.50,291.08 330.00,291.08 330.50,291.08 C331.00,291.07 331.50,291.07 332.00,291.06 C332.50,291.06 333.00,291.05 333.50,291.04 C334.00,291.03 334.50,291.02 335.00,291.02 C335.50,291.01 336.00,291.00 336.50,290.99 C337.00,290.99 337.50,290.98 338.00,290.97 C338.50,290.97 339.00,290.96 339.50,290.95 C340.00,290.95 340.50,290.94 341.00,290.93 C341.50,290.93 342.00,290.92 342.50,290.91 C343.00,290.91 343.50,290.90 344.00,290.89 C344.50,290.89 345.00,290.88 345.50,290.88 C346.00,290.87 346.50,290.86 347.00,290.86 C347.50,290.85 348.00,290.84 348.50,290.84 C349.00,290.83 349.50,290.82 350.00,290.82 C350.50,290.81 351.00,290.80 351.50,290.80 C352.00,290.79 352.50,290.78 353.00,290.78 C353.50,290.77 354.00,290.76 354.50,290.76 C355.00,290.75 355.50,290.74 356.00,290.74 C356.50,290.73 357.00,290.72 357.50,290.72 C358.00,290.71 358.50,290.70 359.00,290.70 C359.50,290.69 360.00,290.68 360.50,290.68 C361.00,290.67 361.50,290.66 362.00,290.66 C362.50,290.65 362.77,290.65 363.50,290.64 C364.23,290.63 365.92,290.61 366.40,290.60" stroke="#ff0000" stroke-width="1.05"/>
<path d="M71.00,105.86 C71.25,105.77 72.00,105.52 72.50,105.34 C73.00,105.16 73.50,104.96 74.00,104.77 C74.50,104.57 75.00,104.36 75.50,104.14 C76.00,103.93 76.50,103.71 77.00,103.48 C77.50,103.25 78.00,103.01 78.50,102.77 C79.00,102.52 79.50,102.27 80.00,102.02 C80.50,101.76 81.00,101.50 81.50,101.23 C82.00,100.96 82.50,100.69 83.00,100.41 C83.50,100.13 84.00,99.85 84.50,99.56 C85.00,99.27 85.50,98.98 86.00,98.69 C86.50,98.39 87.00,98.09 87.50,97.79 C88.00,97.49 88.50,97.18 89.00,96.87 C89.50,96.56 90.00,96.25 90.50,95.94 C91.00,95.63 91.50,95.31 92.00,94.99 C92.50,94.68 93.00,94.36 93.50,94.04 C94.00,93.72 94.50,93.40 95.00,93.08 C95.50,92.76 96.00,92.43 96.50,92.11 C97.00,91.79 97.50,91.47 98.00,91.15 C98.50,90.83 99.00,90.51 99.50,90.19 C100.00,89.87 100.50,89.55 101.00,89.24 C101.50,88.92 102.00,88.61 102.50,88.30 C103.00,87.99 103.50,87.68 104.00,87.37 C104.50,87.06 105.00,86.76 105.50,86.46 C106.00,86.16 106.50,85.86 107.00,85.57 C107.50,85.28 108.00,84.99 108.50,84.71 C109.00,84.42 109.50,84.14 110.00,83.87 C110.50,83.60 111.00,83.33 111.50,83.06 C112.00,82.80 112.50,82.54 113.00,82.29 C113.50,82.04 114.00,81.80 114.50,81.56 C115.00,81.32 115.50,81.09 116.00,80.87 C116.50,80.64 117.00,80.42 117.50,80.22 C118.00,80.01 118.50,79.81 119.00,79.61 C119.50,79.42 120.00,79.24 120.50,79.06 C121.00,78.89 121.50,78.72 122.00,78.57 C122.50,78.41 123.00,78.27 123.50,78.13 C124.00,77.99 124.50,77.87 125.00,77.75 C125.50,77.64 126.00,77.53 126.50,77.44 C127.00,77.35 127.50,77.26 128.00,77.19 C128.50,77.12 129.00,77.07 129.50,77.02 C130.00,76.97 130.50,76.94 131.00,76.92 C131.50,76.90 132.00,76.89 132.50,76.90 C133.00,76.91 133.50,76.93 134.00,76.96 C134.50,76.99 135.00,77.04 135.50,77.10 C136.00,77.17 136.50,77.24 137.00,77.33 C137.50,77.43 138.00,77.53 138.50,77.66 C139.00,77.78 139.50,77.92 140.00,78.08 C140.50,78.23 141.00,78.40 141.50,78.59 C142.00,78.78 142.50,78.99 143.00,79.21 C143.50,79.43 144.00,79.67 144.50,79.93 C145.00,80.19 145.50,80.47 146.00,80.76 C146.50,81.06 147.00,81.37 147.50,81.70 C148.00,82.03 148.50,82.39 149.00,82.76 C149.50,83.13 150.00,83.52 150.50,83.93 C151.00,84.34 151.50,84.77 152.00,85.23 C152.50,85.68 153.00,86.15 153.50,86.65 C154.00,87.14 154.50,87.66 155.00,88.19 C155.50,88.72 156.00,89.28 156.50,89.85 C157.00,90.42 157.50,91.01 158.00,91.62 C158.50,92.23 159.00,92.85 159.50,93.49 C160.00,94.13 160.50,94.79 161.00,95.46 C161.50,96.13 162.00,96.82 162.50,97.52 C163.00,98.22 163.50,98.93 164.00,99.66 C164.50,100.39 165.00,101.13 165.50,101.88 C166.00,102.63 166.50,103.39 167.00,104.16 C167.50,104.94 168.00,105.72 168.50,106.51 C169.00,107.31 169.50,108.11 170.00,108.92 C170.50,109.73 171.00,110.55 171.50,111.37 C172.00,112.20 172.50,113.03 173.00,113.87 C173.50,114.70 174.00,115.55 174.50,116.40 C175.00,117.25 175.50,118.10 176.00,118.96 C176.50,119.82 177.00,120.69 177.50,121.56 C178.00,122.43 178.50,123.31 179.00,124.19 C179.50,125.07 180.00,125.96 180.50,126.85 C181.00,127.74 181.50,128.64 182.00,129.54 C182.50,130.44 183.00,131.35 183.50,132.26 C184.00,133.17 184.50,134.08 185.00,135.00 C185.50,135.92 186.00,136.84 186.50,137.76 C187.00,138.69 187.50,139.62 188.00,140.55 C188.50,141.49 189.00,142.42 189.50,143.36 C190.00,144.30 190.50,145.25 191.00,146.19 C191.50,147.14 192.00,148.09 192.50,149.04 C193.00,149.99 193.50,150.95 194.00,151.91 C194.50,152.86 195.00,153.82 195.50,154.78 C196.00,155.75 196.50,156.71 197.00,157.68 C197.50,158.64 198.00,159.61 198.50,160.58 C199.00,161.54 199.50,162.51 200.00,163.49 C200.50,164.46 201.00,165.43 201.50,166.40 C202.00,167.37 202.50,168.35 203.00,169.32 C203.50,170.30 204.00,171.27 204.50,172.25 C205.00,173.22 205.50,174.20 206.00,175.17 C206.50,176.15 207.00,177.12 207.50,178.09 C208.00,179.07 208.50,180.04 209.00,181.01 C209.50,181.99 210.00,182.96 210.50,183.93 C211.00,184.90 211.50,185.87 212.00,186.84 C212.50,187.81 213.00,188.77 213.50,189.74 C214.00,190.70 214.50,191.66 215.00,192.63 C215.50,193.59 216.00,194.55 216.50,195.50 C217.00,196.46 217.50,197.41 218.00,198.36 C218.50,199.31 219.00,200.26 219.50,201.21 C220.00,202.15 220.50,203.10 221.00,204.04 C221.50,204.97 222.00,205.91 222.50,206.84 C223.00,207.77 223.50,208.70 224.00,209.63 C224.50,210.55 225.00,211.47 225.50,212.39 C226.00,213.30 226.50,214.22 227.00,215.12 C227.50,216.03 228.00,216.93 228.50,217.83 C229.00,218.73 229.50,219.62 230.00,220.51 C230.50,221.39 231.00,222.28 231.50,223.15 C232.00,224.03 232.50,224.90 233.00,225.77 C233.50,226.63 234.00,227.49 234.50,228.34 C235.00,229.19 235.50,230.04 236.00,230.88 C236.50,231.72 237.00,232.56 237.50,233.38 C238.00,234.21 238.50,235.03 239.00,235.84 C239.50,236.66 240.00,237.46 240.50,238.26 C241.00,239.06 241.50,239.85 242.00,240.63 C242.50,241.41 243.00,242.19 243.50,242.96 C244.00,243.72 244.50,244.48 245.00,245.23 C245.50,245.98 246.00,246.73 246.50,247.46 C247.00,248.19 247.50,248.92 248.00,249.63 C248.50,250.35 249.00,251.06 249.50,251.75 C250.00,252.45 250.50,253.14 251.00,253.82 C251.50,254.50 252.00,255.17 252.50,255.83 C253.00,256.49 253.50,257.14 254.00,257.78 C254.50,258.42 255.00,259.05 255.50,259.67 C256.00,260.29 256.50,260.90 257.00,261.51 C257.50,262.11 258.00,262.70 258.50,263.28 C259.00,263.86 259.50,264.43 260.00,264.99 C260.50,265.55 261.00,266.10 261.50,266.64 C262.00,267.18 262.50,267.70 263.00,268.22 C263.50,268.74 264.00,269.25 264.50,269.74 C265.00,270.24 265.50,270.72 266.00,271.19 C266.50,271.67 267.00,272.13 267.50,272.58 C268.00,273.03 268.50,273.47 269.00,273.90 C269.50,274.33 270.00,274.75 270.50,275.16 C271.00,275.57 271.50,275.97 272.00,276.36 C272.50,276.75 273.00,277.12 273.50,277.49 C274.00,277.86 274.50,278.22 275.00,278.57 C275.50,278.92 276.00,279.27 276.50,279.60 C277.00,279.93 277.50,280.25 278.00,280.57 C278.50,280.88 279.00,281.19 279.50,281.48 C280.00,281.78 280.50,282.07 281.00,282.35 C281.50,282.63 282.00,282.90 282.50,283.17 C283.00,283.43 283.50,283.69 284.00,283.94 C284.50,284.18 285.00,284.43 285.50,284.66 C286.00,284.89 286.50,285.12 287.00,285.34 C287.50,285.56 288.00,285.77 288.50,285.98 C289.00,286.18 289.50,286.38 290.00,286.57 C290.50,286.76 291.00,286.95 291.50,287.13 C292.00,287.30 292.50,287.48 293.00,287.64 C293.50,287.81 294.00,287.97 294.50,288.12 C295.00,288.27 295.50,288.42 296.00,288.56 C296.50,288.70 297.00,288.83 297.50,288.96 C298.00,289.09 298.50,289.22 299.00,289.34 C299.50,289.45 300.00,289.57 300.50,289.67 C301.00,289.78 301.50,289.88 302.00,289.98 C302.50,290.08 303.00,290.17 303.50,290.26 C304.00,290.34 304.50,290.42 305.00,290.50 C305.50,290.58 306.00,290.65 306.50,290.72 C307.00,290.79 307.50,290.85 308.00,290.91 C308.50,290.97 309.00,291.03 309.50,291.08 C310.00,291.13 310.50,291.18 311.00,291.22 C311.50,291.27 312.00,291.30 312.50,291.34 C313.00,291.38 313.50,291.41 314.00,291.44 C314.50,291.47 315.00,291.49 315.50,291.52 C316.00,291.54 316.50,291.56 317.00,291.57 C317.50,291.59 318.00,291.60 318.50,291.62 C319.00,291.63 319.50,291.63 320.00,291.64 C320.50,291.64 321.00,291.65 321.50,291.65 C322.00,291.65 322.50,291.65 323.00,291.64 C323.50,291.64 324.00,291.63 324.50,291.62 C325.00,291.61 325.50,291.61 326.00,291.59 C326.50,291.58 327.00,291.56 327.50,291.54 C328.00,291.51 328.50,291.48 329.00,291.45 C329.50,291.42 330.00,291.39 330.50,291.35 C331.00,291.32 331.50,291.28 332.00,291.25 C332.50,291.22 333.00,291.19 333.50,291.16 C334.00,291.13 334.50,291.10 335.00,291.08 C335.50,291.06 336.00,291.04 336.50,291.02 C337.00,291.00 337.50,290.99 338.00,290.98 C338.50,290.97 339.00,290.96 339.50,290.95 C340.00,290.95 340.50,290.94 341.00,290.93 C341.50,290.93 342.00,290.92 342.50,290.91 C343.00,290.91 343.50,290.90 344.00,290.89 C344.50,290.89 345.00,290.88 345.50,290.88 C346.00,290.87 346.50,290.86 347.00,290.86 C347.50,290.85 348.00,290.84 348.50,290.84 C349.00,290.83 349.50,290.82 350.00,290.82 C350.50,290.81 351.00,290.80 351.50,290.80 C352.00,290.79 352.50,290.78 353.00,290.78 C353.50,290.77 354.00,290.76 354.50,290.76 C355.00,290.75 355.50,290.74 356.00,290.74 C356.50,290.73 357.00,290.72 357.50,290.72 C358.00,290.71 358.50,290.70 359.00,290.70 C359.50,290.69 360.00,290.68 360.50,290.68 C361.00,290.67 361.50,290.66 362.00,290.66 C362.50,290.65 362.77,290.65 363.50,290.64 C364.23,290.63 365.92,290.61 366.40,290.60" stroke="#ff0000" stroke-width="2.15"/>
</g>
<line x1="205.4" y1="357.4" x2="214.9" y2="339.9" stroke="#141414" stroke-width="1.2"/>
<line x1="28.9" y1="180.0" x2="10.2" y2="170.9" stroke="#141414" stroke-width="1.2"/>
<line x1="238.3" y1="57.2" x2="272.7" y2="57.2" stroke="#ff0000" stroke-width="2.1"/>
<line x1="238.5" y1="98.9" x2="272.8" y2="98.9" stroke="#0000ff" stroke-width="2.0" stroke-dasharray="12.3 4.2"/>
<line x1="238.0" y1="119.1" x2="273.2" y2="119.1" stroke="#00a846" stroke-width="1.9" stroke-dasharray="1.3 1.53"/>
<g opacity="0.999">
<line x1="74.60" y1="322.75" x2="78.80" y2="322.75" stroke="#141414" stroke-width="1.3"/><line x1="123.87" y1="322.75" x2="128.07" y2="322.75" stroke="#141414" stroke-width="1.3"/><line x1="173.13" y1="322.75" x2="177.33" y2="322.75" stroke="#141414" stroke-width="1.3"/><line x1="222.40" y1="322.75" x2="226.60" y2="322.75" stroke="#141414" stroke-width="1.3"/><line x1="271.67" y1="322.75" x2="275.87" y2="322.75" stroke="#141414" stroke-width="1.3"/>
<text transform="translate(57.20,330.20) scale(1.0833,1)" font-size="14.2" style="" stroke="#141414" stroke-width="0.3">10</text>
<text transform="translate(79.66,326.10) scale(1.2539,1)" font-size="8.8" style="font-weight:bold;" >6</text>
<text transform="translate(106.46,330.20) scale(1.0833,1)" font-size="14.2" style="" stroke="#141414" stroke-width="0.3">10</text>
<text transform="translate(128.91,326.10) scale(1.2987,1)" font-size="8.8" style="font-weight:bold;" >5</text>
<text transform="translate(155.73,330.20) scale(1.0833,1)" font-size="14.2" style="" stroke="#141414" stroke-width="0.3">10</text>
<text transform="translate(178.53,326.10) scale(1.1730,1)" font-size="8.8" style="font-weight:bold;" >4</text>
<text transform="translate(205.00,330.20) scale(1.0833,1)" font-size="14.2" style="" stroke="#141414" stroke-width="0.3">10</text>
<text transform="translate(227.44,326.10) scale(1.2987,1)" font-size="8.8" style="font-weight:bold;" >3</text>
<text transform="translate(254.26,330.20) scale(1.0833,1)" font-size="14.2" style="" stroke="#141414" stroke-width="0.3">10</text>
<text transform="translate(276.71,326.10) scale(1.2987,1)" font-size="8.8" style="font-weight:bold;" >2</text>
<text transform="translate(306.35,330.00) scale(1.2394,1)" font-size="14.2" style="" stroke="#141414" stroke-width="0.3">0</text>
<text transform="translate(315.75,330.00) scale(0.8451,1)" font-size="14.2" style="" stroke="#141414" stroke-width="0.3">.</text>
<text transform="translate(319.92,330.00) scale(0.9765,1)" font-size="14.2" style="" stroke="#141414" stroke-width="0.3">1</text>
<text transform="translate(363.38,330.00) scale(0.9202,1)" font-size="14.2" style="" stroke="#141414" stroke-width="0.3">1</text>
<text transform="translate(40.89,21.90) scale(1.0912,1)" font-size="14.2" style="" stroke="#141414" stroke-width="0.3">10</text>
<text transform="translate(57.16,17.50) scale(1.2208,1)" font-size="8.8" style="font-weight:bold;" >2</text>
<text transform="translate(46.82,158.80) scale(1.0596,1)" font-size="14.2" style="" stroke="#141414" stroke-width="0.3">10</text>
<text transform="translate(54.98,296.20) scale(0.9202,1)" font-size="14.2" style="" stroke="#141414" stroke-width="0.3">1</text>
<text transform="translate(195.91,353.80) scale(1.2800,1)" font-size="19.5" style="" stroke="#141414" stroke-width="0.25">r</text>
<text transform="translate(217.61,353.80) scale(1.2800,1)" font-size="19.5" style="" stroke="#141414" stroke-width="0.25">r</text>
<text transform="translate(226.40,360.00) scale(1.2004,1)" font-size="11.6" style="" stroke="#141414" stroke-width="0.3">vir</text>
<text transform="translate(24.50,218.00) rotate(-90) translate(0.83,0.00) scale(1.0116,1)" font-size="20" style="font-style:italic;" stroke="#141414" stroke-width="0.25">ρ</text>
<text transform="translate(24.50,218.00) rotate(-90) translate(11.22,0.00) scale(1.0844,1)" font-size="20" style="" stroke="#141414" stroke-width="0.25">(</text>
<text transform="translate(24.50,218.00) rotate(-90) translate(19.31,0.00) scale(1.2636,1)" font-size="19.5" style="" stroke="#141414" stroke-width="0.25">r</text>
<text transform="translate(24.50,218.00) rotate(-90) translate(28.44,0.00) scale(1.2235,1)" font-size="20" style="" stroke="#141414" stroke-width="0.25">)</text>
<text transform="translate(24.50,218.00) rotate(-90) translate(49.67,0.00) scale(1.0735,1)" font-size="20" style="font-style:italic;" stroke="#141414" stroke-width="0.25">ρ</text>
<text transform="translate(24.50,218.00) rotate(-90) translate(60.36,4.90) scale(0.8068,1)" font-size="11.2" style="font-weight:bold;" >NFW</text>
<text transform="translate(24.50,218.00) rotate(-90) translate(82.44,0.00) scale(0.8889,1)" font-size="20" style="" stroke="#141414" stroke-width="0.25">(</text>
<text transform="translate(24.50,218.00) rotate(-90) translate(90.04,0.00) scale(1.1979,1)" font-size="19.5" style="" stroke="#141414" stroke-width="0.25">r</text>
<text transform="translate(24.50,218.00) rotate(-90) translate(99.95,0.00) scale(1.0353,1)" font-size="20" style="" stroke="#141414" stroke-width="0.25">)</text>
<text transform="translate(277.76,57.80) scale(1.2454,1)" font-size="11.3" style="" stroke="#141414" stroke-width="0.38" stroke-linejoin="round">Contraction</text>
<text transform="translate(278.29,74.10) scale(1.1474,1)" font-size="11.3" style="" stroke="#141414" stroke-width="0.38" stroke-linejoin="round">(w=0.6, 0.8, 1)</text>
<text transform="translate(278.60,99.20) scale(1.0784,1)" font-size="11.3" style="" stroke="#141414" stroke-width="0.38" stroke-linejoin="round">Adiabatic</text>
<text transform="translate(278.39,119.90) scale(1.1714,1)" font-size="11.3" style="" stroke="#141414" stroke-width="0.38" stroke-linejoin="round">Break</text>
</g>
</svg>
</body></html>
